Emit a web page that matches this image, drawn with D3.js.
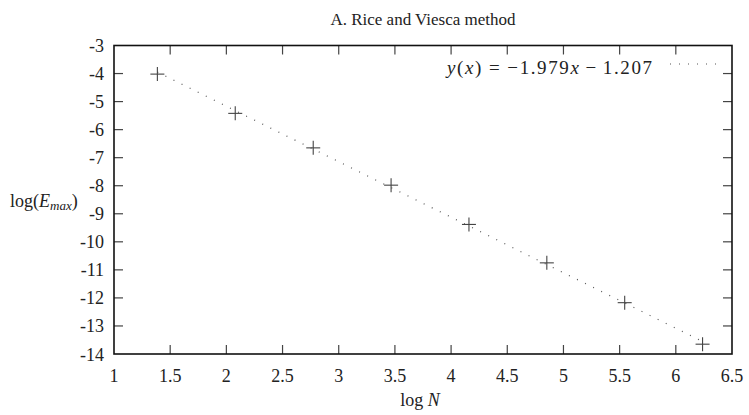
<!DOCTYPE html>
<html><head><meta charset="utf-8">
<script src="https://cdn.jsdelivr.net/npm/d3@7"></script>
<style>body{margin:0;background:#fff}svg{display:block}</style>
</head><body><svg id="c" width="749" height="415"></svg>
<script>
const xVals = [1.386, 2.079, 2.773, 3.466, 4.159, 4.852, 5.545, 6.238];
const yVals = [-4.02, -5.42, -6.65, -7.98, -9.38, -10.75, -12.17, -13.65];
const fitSlope = -1.979, fitIntercept = -1.207;
const xTicks = [1, 1.5, 2, 2.5, 3, 3.5, 4, 4.5, 5, 5.5, 6, 6.5];
const yTicks = [-3, -4, -5, -6, -7, -8, -9, -10, -11, -12, -13, -14];
const titleText = "A. Rice and Viesca method";

const FF = "Liberation Serif";
const svg = d3.select("#c");
const L = 114, R = 732, T = 45.5, B = 354;
const x = d3.scaleLinear().domain([1, 6.5]).range([L, R]);
const y = d3.scaleLinear().domain([-14, -3]).range([B, T]);
const tl = 9;
const fs = 18;
const ink = "#222";

// ticks
const tg = svg.append("g").attr("stroke", "#444").attr("stroke-width", 1.2);
xTicks.slice(1, -1).forEach(v => {
  tg.append("line").attr("x1", x(v)).attr("x2", x(v)).attr("y1", B).attr("y2", B - tl);
  tg.append("line").attr("x1", x(v)).attr("x2", x(v)).attr("y1", T).attr("y2", T + tl);
});
yTicks.slice(1, -1).forEach(v => {
  tg.append("line").attr("x1", L).attr("x2", L + tl).attr("y1", y(v)).attr("y2", y(v));
  tg.append("line").attr("x1", R).attr("x2", R - tl).attr("y1", y(v)).attr("y2", y(v));
});
// frame
svg.append("rect").attr("x", L).attr("y", T).attr("width", R - L).attr("height", B - T)
  .attr("fill", "none").attr("stroke", "#111").attr("stroke-width", 1.6);

// tick labels
svg.append("g").selectAll("text").data(xTicks).join("text")
  .attr("font-family", FF)
  .attr("x", d => x(d)).attr("y", B + 27.5).attr("text-anchor", "middle").attr("fill", ink)
  .attr("font-size", fs).text(d => d);
svg.append("g").selectAll("text").data(yTicks).join("text")
  .attr("font-family", FF)
  .attr("x", L - 10).attr("y", d => y(d) + 6.5).attr("text-anchor", "end").attr("fill", ink)
  .attr("font-size", fs).text(d => d);

// title and axis labels
svg.append("text").attr("font-family", FF).attr("x", 423).attr("y", 25).attr("text-anchor", "middle").attr("fill", ink)
  .attr("font-size", 17).text(titleText);
const xl = svg.append("text").attr("font-family", FF).attr("x", 420).attr("y", 406).attr("text-anchor", "middle")
  .attr("font-size", fs).attr("fill", ink);
xl.append("tspan").text("log ");
xl.append("tspan").attr("font-style", "italic").text("N");
const yl = svg.append("text").attr("font-family", FF).attr("x", 10).attr("y", 207).attr("font-size", fs).attr("fill", ink);
yl.append("tspan").text("log(");
yl.append("tspan").attr("font-style", "italic").text("E");
yl.append("tspan").attr("font-style", "italic").attr("font-size", 13).attr("dy", 3).text("max");
yl.append("tspan").attr("dy", -3).text(")");

// fit line (dotted)
const x0 = xVals[0], x1 = xVals[xVals.length - 1];
svg.append("line").attr("x1", x(x0)).attr("y1", y(fitSlope * x0 + fitIntercept))
  .attr("x2", x(x1)).attr("y2", y(fitSlope * x1 + fitIntercept))
  .attr("stroke", "#555").attr("stroke-width", 1.2).attr("stroke-dasharray", "1,8");

// legend
const lg = svg.append("text").attr("font-family", FF).attr("x", 447).attr("y", 74).attr("font-size", 19).attr("fill", ink)
  .attr("textLength", 205).attr("lengthAdjust", "spacing");
lg.append("tspan").attr("font-style", "italic").text("y");
lg.append("tspan").text("(");
lg.append("tspan").attr("font-style", "italic").text("x");
lg.append("tspan").text(")");
lg.append("tspan").attr("dx", 6).text("=");
lg.append("tspan").attr("dx", 6).text("\u2212" + Math.abs(fitSlope).toFixed(3));
lg.append("tspan").attr("font-style", "italic").text("x");
lg.append("tspan").attr("dx", 5).text("\u2212");
lg.append("tspan").attr("dx", 5).text(Math.abs(fitIntercept).toFixed(3));
svg.append("line").attr("x1", 670).attr("x2", 720).attr("y1", 64).attr("y2", 64)
  .attr("stroke", "#555").attr("stroke-width", 1.2).attr("stroke-dasharray", "1,8");

// markers
const mg = svg.append("g").attr("stroke", "#444").attr("stroke-width", 1.1);
xVals.forEach((xv, i) => {
  const px = x(xv), py = y(yVals[i]);
  mg.append("line").attr("x1", px - 7).attr("x2", px + 7).attr("y1", py).attr("y2", py);
  mg.append("line").attr("x1", px).attr("x2", px).attr("y1", py - 7).attr("y2", py + 7);
});
</script></body></html>
